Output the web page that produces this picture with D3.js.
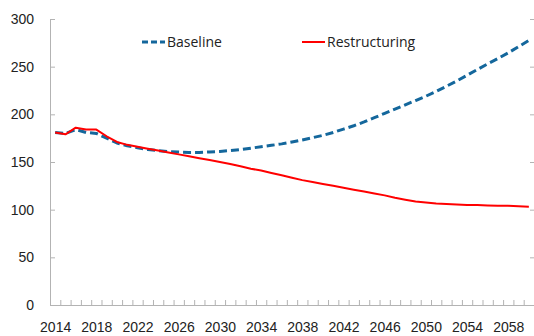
<!DOCTYPE html>
<html>
<head>
<meta charset="utf-8">
<script src="https://cdn.jsdelivr.net/npm/d3@7"></script>
<style>
  body { margin: 0; background: #fff; }
  svg { display: block; font-family: "Open Sans", sans-serif; }
  .axis text { font-size: 14px; fill: #222; }
  .axis path, .axis line { stroke: #b3b3b3; }
</style>
</head>
<body>
<div class="chart"></div>
<script>
const years = d3.range(2014, 2061);
const labelYears = d3.range(2014, 2059, 4);
const yTicks = [0, 50, 100, 150, 200, 250, 300];

const baseline = [
  181, 180, 184, 181, 180, 175, 170, 167, 165, 163,
  162, 161, 160.5, 160, 160, 160.5, 161, 162, 163, 164.5,
  166, 167.5, 169, 171, 173, 175.5, 178, 181, 184.5, 188,
  192, 196.5, 201, 205.5, 210, 214.5, 219, 224, 229.5, 235,
  241, 247, 253, 258.5, 264.5, 271, 277.5
];
const restructuring = [
  181, 179, 186, 184, 184, 177, 171, 168, 166, 164,
  162, 160, 158, 156, 154, 152, 150, 148, 145.5, 143,
  141, 138.5, 136, 133.5, 131, 129, 127, 125, 123, 121,
  119, 117, 115, 112.5, 110.5, 108.5, 107.5, 106.5, 106, 105.5,
  105, 105, 104.5, 104, 104, 103.5, 103
];

const seriesNames = ["Baseline", "Restructuring"];
const colors = ["#14679c", "#ff0000"];

const width = 534;
const height = 336;
const plot = {left: 50, right: 534, top: 19, bottom: 305};

const svg = d3.select(".chart").append("svg")
  .attr("width", width)
  .attr("height", height);

/* Scales */
const x = d3.scaleLinear()
  .domain([years[0] - 0.5, years[years.length - 1] + 0.5])
  .range([plot.left, plot.right]);

const y = d3.scaleLinear()
  .domain([0, 300])
  .range([plot.bottom, plot.top]);

/* Axes */
svg.append("g")
  .attr("class", "axis")
  .attr("transform", `translate(${plot.left},0)`)
  .call(d3.axisLeft(y).tickValues(yTicks).tickSizeInner(-5).tickSizeOuter(0).tickPadding(16));

svg.append("g")
  .attr("class", "axis")
  .attr("transform", `translate(${plot.right},0)`)
  .call(d3.axisLeft(y).tickValues(yTicks).tickSizeInner(4).tickSizeOuter(0).tickFormat(""))
  .select(".domain").remove();

svg.append("g")
  .attr("class", "axis")
  .attr("transform", `translate(0,${plot.bottom})`)
  .call(d3.axisTop(x).tickValues(d3.range(years[0] - 0.5, years[years.length - 1] + 1, 1))
    .tickSizeInner(5).tickSizeOuter(0).tickFormat(""));

svg.append("g")
  .attr("class", "axis")
  .attr("transform", `translate(0,${plot.bottom})`)
  .call(d3.axisBottom(x).tickValues(labelYears).tickSize(0).tickPadding(17).tickFormat(d3.format("d")))
  .select(".domain").remove();

/* Lines */
const line = d3.line()
  .x((d, i) => x(years[i]))
  .y(d => y(d));

const data = [baseline, restructuring];

svg.append("g")
  .selectAll("path")
  .data(data)
  .enter()
  .append("path")
  .attr("d", d => line(d))
  .attr("fill", "none")
  .attr("stroke", (d, i) => colors[i])
  .attr("stroke-width", (d, i) => i === 0 ? 3 : 2)
  .attr("stroke-dasharray", (d, i) => i === 0 ? "8,4" : null)
  .attr("stroke-linejoin", "round");

/* Legend */
const legendX = [142, 302];
const legend = svg.append("g")
  .selectAll("g")
  .data(seriesNames)
  .enter()
  .append("g")
  .attr("transform", (d, i) => `translate(${legendX[i]},42)`);

legend.append("line")
  .attr("x1", 0)
  .attr("x2", 23)
  .attr("stroke", (d, i) => colors[i])
  .attr("stroke-width", (d, i) => i === 0 ? 3 : 2)
  .attr("stroke-dasharray", (d, i) => i === 0 ? "6,3" : null);

legend.append("text")
  .attr("x", 25)
  .attr("dy", "0.35em")
  .style("font-size", "14px")
  .style("fill", "#222")
  .text(d => d);
</script>
</body>
</html>
